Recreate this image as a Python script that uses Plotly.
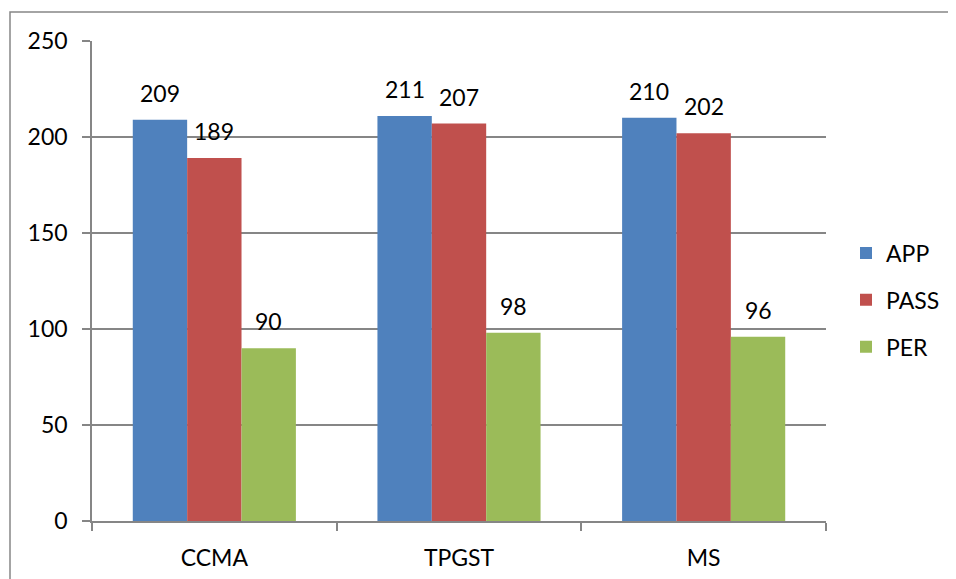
import plotly.graph_objects as go

categories = ['CCMA', 'TPGST', 'MS']
app = [209, 211, 210]
passed = [189, 207, 202]
per = [90, 98, 96]

series = [('APP', app, '#4F81BD'),
          ('PASS', passed, '#C0504D'),
          ('PER', per, '#9BBB59')]

W, H = 956, 579
# page body adds 8px offset, so margins are 8px less than the screen positions
ml, mr, mt, mb = 84, 138, 33, 66
bargap = 1 / 3
font = dict(family='Lato, Open Sans, sans-serif', size=23, color='black')

fig = go.Figure()
for name, vals, col in series:
    fig.add_bar(x=categories, y=vals, name=name, marker=dict(color=col, line=dict(width=0)),
                legendgroup=name)

# data labels above each bar
plot_w = W - ml - mr
plot_h = H - mt - mb
bar_w = plot_w / len(categories) * (1 - bargap) / len(series)
for k, (name, vals, col) in enumerate(series):
    offset = (k - (len(series) - 1) / 2) * bar_w
    for c, v in zip(categories, vals):
        fig.add_annotation(x=c, y=v, text=str(v), showarrow=False, xshift=offset,
                           yshift=27, yanchor='middle', font=font)

# outer chart border
fig.add_shape(type='rect', xref='paper', yref='paper',
              x0=(2 - ml) / plot_w, x1=(W + 20 - ml) / plot_w,
              y0=-(mb + 40) / plot_h,
              y1=(plot_h + mt - 4) / plot_h,
              line=dict(color='#868686', width=1.5), layer='below')

fig.update_layout(
    width=W, height=H,
    margin=dict(l=ml, r=mr, t=mt, b=mb, autoexpand=False),
    paper_bgcolor='white', plot_bgcolor='white',
    barmode='group', bargap=bargap, bargroupgap=0,
    font=font,
    showlegend=True,
    legend=dict(x=(838 - ml) / plot_w, xanchor='left', y=(H - mb - 292) / plot_h, yanchor='middle',
                font=font, tracegroupgap=14, bgcolor='rgba(0,0,0,0)'),
)
fig.update_yaxes(range=[0, 250], dtick=50, showgrid=True, gridcolor='#868686', gridwidth=1.5,
                 showline=True, linecolor='#868686', linewidth=1.5, automargin=False,
                 ticks='outside', ticklen=8, tickcolor='#868686', tickwidth=1.5,
                 ticklabelstandoff=10, zeroline=False)
fig.update_xaxes(showline=True, linecolor='#868686', linewidth=1.5, mirror=False, automargin=False,
                 ticks='outside', ticklen=8, tickcolor='#868686', tickwidth=1.5,
                 tickson='boundaries', ticklabelstandoff=16)

fig.write_html('out.html')
